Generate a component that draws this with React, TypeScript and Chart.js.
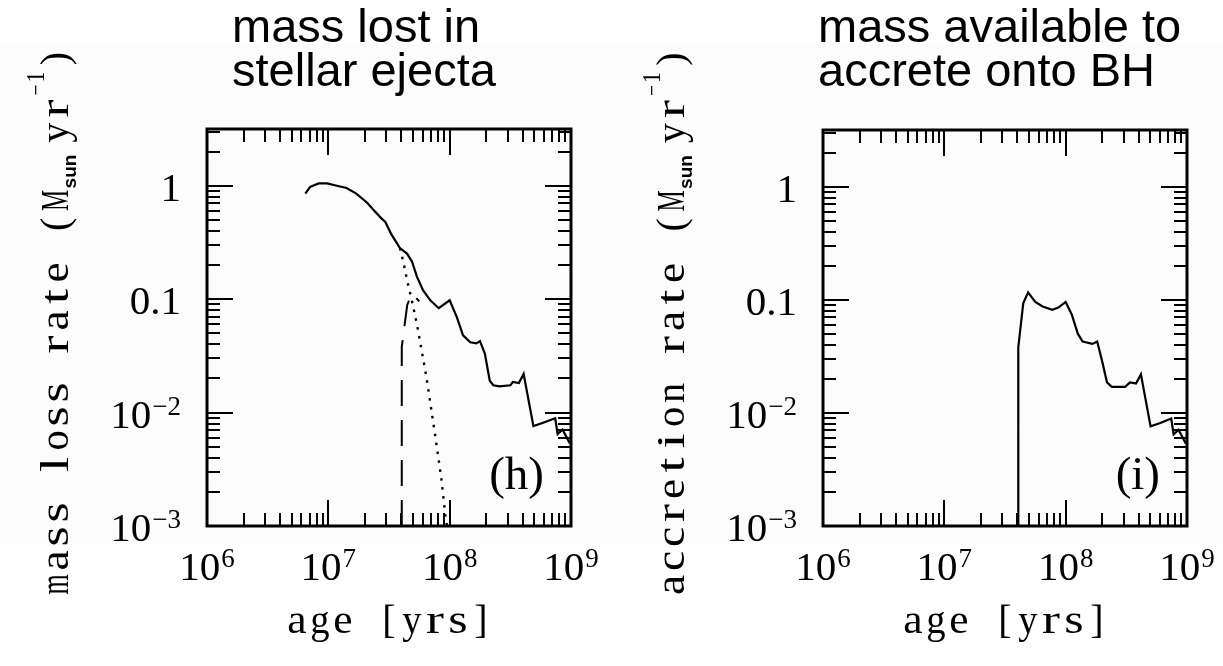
import React, { useEffect, useRef } from "react";
import { Chart, registerables } from "chart.js";

Chart.register(...registerables);

// ---------- data ----------
// (h) total mass lost in stellar ejecta (solid)
const ejectaAge = [6.46e6, 7.08e6, 8.32e6, 9.77e6, 1.175e7, 1.413e7, 1.7e7, 2.09e7, 2.34e7, 2.75e7, 2.95e7, 3.31e7, 3.89e7, 4.47e7, 4.9e7, 5.37e7, 6.03e7, 6.92e7, 8.13e7, 1.0e8, 1.148e8, 1.288e8, 1.479e8, 1.66e8, 1.778e8, 1.95e8, 2.14e8, 2.29e8, 2.57e8, 3.16e8, 3.31e8, 3.72e8, 4.07e8, 4.9e8, 5.89e8, 7.41e8, 7.76e8, 8.51e8, 9.12e8, 9.77e8];
const ejectaRate = [0.851, 0.977, 1.047, 1.047, 1.0, 0.955, 0.851, 0.708, 0.617, 0.513, 0.479, 0.372, 0.282, 0.251, 0.214, 0.158, 0.12, 0.0977, 0.0832, 0.0977, 0.0692, 0.0479, 0.0417, 0.0407, 0.0427, 0.0331, 0.0191, 0.0174, 0.017, 0.0174, 0.0186, 0.0182, 0.0219, 0.00759, 0.00813, 0.00891, 0.00646, 0.00708, 0.00617, 0.00537];
// (h) dotted component
const dottedAge = [3.89e7, 4.17e7, 4.47e7, 4.9e7, 5.37e7, 5.89e7, 6.46e7, 7.59e7, 8.51e7, 9.33e7, 9.55e7];
const dottedRate = [0.282, 0.209, 0.145, 0.0955, 0.0603, 0.0347, 0.02, 0.00631, 0.00269, 0.0011, 0.001];
// (h) dashed component
const dashedAge = [4.03e7, 4.03e7, 4.47e7, 4.9e7, 5.62e7];
const dashedRate = [0.001, 0.038, 0.089, 0.112, 0.0955];
// (i) mass available to accrete onto BH
const accretionAge = [4.07e7, 4.07e7, 4.47e7, 4.9e7, 5.62e7, 6.46e7, 7.76e7, 8.71e7, 1.0e8, 1.122e8, 1.259e8, 1.38e8, 1.66e8, 1.82e8, 1.995e8, 2.19e8, 2.4e8, 3.09e8, 3.39e8, 3.8e8, 4.17e8, 5.01e8, 6.03e8, 7.41e8, 7.76e8, 8.51e8, 9.12e8, 9.77e8];
const accretionRate = [0.001, 0.038, 0.093, 0.116, 0.0955, 0.0871, 0.0813, 0.0851, 0.0955, 0.0741, 0.0501, 0.0427, 0.0407, 0.0427, 0.0288, 0.0186, 0.017, 0.017, 0.0186, 0.0182, 0.0219, 0.00759, 0.00813, 0.00891, 0.00646, 0.00708, 0.00617, 0.00537];

// ---------- axes / tick labels ----------
const xMin = 1e6;
const xMax = 1e9;
const yMin = 1e-3;
const yMax = 3.162;
const xTickValues = [1e6, 1e7, 1e8, 1e9];
const xTickBase = ["10", "10", "10", "10"];
const xTickExp = ["6", "7", "8", "9"];
const yTickValues = [1, 0.1, 0.01, 0.001];
const yTickBase = ["1", "0.1", "10", "10"];
const yTickExp = ["", "", "\u22122", "\u22123"];

const xTitle = "age [yrs]";
const leftTitleLines = ["mass lost in", "stellar ejecta"];
const rightTitleLines = ["mass available to", "accrete onto BH"];
const leftYTitle = "mass loss rate (M";
const rightYTitle = "accretion rate (M";

const SERIF = '"Liberation Serif", "DejaVu Serif", serif';
const TT = '"Liberation Serif", "DejaVu Serif", serif';
const SANS = '"Liberation Sans", Arial, sans-serif';

const toPts = (xs: number[], ys: number[]) => xs.map((x, i) => ({ x, y: ys[i] }));

type PanelCfg = {
  left: number;
  width: number;
  padding: { left: number; right: number; top: number; bottom: number };
  titleLines: string[];
  titleX: number;
  yTitle: string;
  tag: string;
  datasets: any[];
};

function drawSup(ctx: CanvasRenderingContext2D, base: string, exp: string, x: number, y: number, align: "center" | "right", baseFont: string, expFont: string, raise: number) {
  ctx.font = baseFont;
  const wb = ctx.measureText(base).width;
  ctx.font = expFont;
  const we = exp ? ctx.measureText(exp).width + 1 : 0;
  const total = wb + we;
  const start = align === "center" ? x - total / 2 : x - total;
  ctx.textAlign = "left";
  ctx.textBaseline = "alphabetic";
  ctx.font = baseFont;
  ctx.fillText(base, start, y);
  if (exp) {
    ctx.font = expFont;
    ctx.fillText(exp, start + wb + 1, y - raise);
  }
}

// typewriter-style text: each character centred (and fitted) in a fixed-width cell
function drawMono(ctx: CanvasRenderingContext2D, text: string, u0: number, v: number, cell: number, font: string) {
  ctx.font = font;
  ctx.textAlign = "left";
  ctx.textBaseline = "alphabetic";
  for (let i = 0; i < text.length; i++) {
    const ch = text[i];
    if (ch === " ") continue;
    const w = ctx.measureText(ch).width;
    const punct = "()[]".includes(ch);
    const sx = punct ? 1 : Math.max(0.6, Math.min(1.35, (cell * 0.84) / w));
    ctx.save();
    ctx.translate(u0 + i * cell + cell / 2, v);
    ctx.scale(sx, 1);
    ctx.fillText(ch, -w / 2, 0);
    ctx.restore();
  }
  return text.length * cell;
}

function makePlugin(cfg: PanelCfg) {
  return {
    id: "panelDecor",
    afterDraw(chart: any) {
      const ctx: CanvasRenderingContext2D = chart.ctx;
      const a = chart.chartArea;
      const xs = chart.scales.x;
      const ys = chart.scales.y;
      ctx.save();
      ctx.strokeStyle = "#000";
      ctx.fillStyle = "#000";
      // ticks (inward, mirrored on all four sides)
      ctx.lineWidth = 2;
      ctx.beginPath();
      for (let d = 6; d <= 9; d++) {
        for (let m = 1; m <= 9; m++) {
          const v = m * Math.pow(10, d);
          if (v < xMin * 0.999 || v > xMax * 1.001) continue;
          const px = Math.round(xs.getPixelForValue(v));
          const len = m === 1 ? 26 : 13;
          ctx.moveTo(px, a.bottom);
          ctx.lineTo(px, a.bottom - len);
          ctx.moveTo(px, a.top);
          ctx.lineTo(px, a.top + len);
        }
      }
      for (let d = -3; d <= 0; d++) {
        for (let m = 1; m <= 9; m++) {
          const v = m * Math.pow(10, d);
          if (v < yMin * 0.999 || v > yMax * 1.001) continue;
          const py = Math.round(ys.getPixelForValue(v));
          const len = m === 1 ? 26 : 13;
          ctx.moveTo(a.left, py);
          ctx.lineTo(a.left + len, py);
          ctx.moveTo(a.right, py);
          ctx.lineTo(a.right - len, py);
        }
      }
      ctx.stroke();
      // frame
      ctx.lineWidth = 3;
      ctx.strokeRect(a.left, a.top, a.right - a.left, a.bottom - a.top);

      // tick labels
      const baseFont = `41px ${SERIF}`;
      const expFont = `27px ${SERIF}`;
      xTickValues.forEach((v, i) => {
        const px = xs.getPixelForValue(v);
        drawSup(ctx, xTickBase[i], xTickExp[i], px, a.bottom + 54, "center", baseFont, expFont, 13);
      });
      yTickValues.forEach((v, i) => {
        const py = ys.getPixelForValue(v);
        drawSup(ctx, yTickBase[i], yTickExp[i], a.left - 26, py + 15, "right", baseFont, expFont, 13);
      });

      // x title
      const xCell = 23;
      const ttFont = `40px ${TT}`;
      drawMono(ctx, xTitle, (a.left + a.right) / 2 - (xTitle.length * xCell) / 2, a.bottom + 107, xCell, ttFont);

      // y title (rotated)
      const yCell = 24;
      const subFont = `bold 19px ${SANS}`;
      const supFont = `25px ${TT}`;
      ctx.font = subFont;
      const sunW = ctx.measureText("sun").width;
      const total = cfg.yTitle.length * yCell + sunW + 10 + 2 * yCell + 2 * 13 + yCell;
      ctx.save();
      ctx.translate(a.left - 139, (a.top + a.bottom) / 2 - 6);
      ctx.rotate(-Math.PI / 2);
      let u = -total / 2;
      u += drawMono(ctx, cfg.yTitle, u, 0, yCell, ttFont);
      ctx.font = subFont;
      ctx.textAlign = "left";
      ctx.fillText("sun", u, 8);
      u += sunW + 10;
      u += drawMono(ctx, "yr", u, 0, yCell, ttFont);
      u += drawMono(ctx, "\u22121", u, -24, 13, supFont);
      drawMono(ctx, ")", u, 0, yCell, ttFont);
      ctx.restore();

      // panel tag
      ctx.font = `47px ${SERIF}`;
      ctx.textAlign = "right";
      ctx.fillText(cfg.tag, a.right - 27, a.bottom - 37);

      // panel title
      ctx.font = `47px ${SANS}`;
      ctx.textAlign = "left";
      cfg.titleLines.forEach((line, i) => {
        ctx.fillText(line, cfg.titleX, 42 + i * 44);
      });
      ctx.restore();
    },
  };
}

function Panel({ cfg }: { cfg: PanelCfg }) {
  const ref = useRef<HTMLCanvasElement | null>(null);
  useEffect(() => {
    if (!ref.current) return;
    const chart = new Chart(ref.current, {
      type: "scatter",
      data: { datasets: cfg.datasets },
      options: {
        responsive: false,
        animation: false,
        devicePixelRatio: 1,
        layout: { padding: cfg.padding },
        plugins: { legend: { display: false }, tooltip: { enabled: false }, title: { display: false } },
        elements: { point: { radius: 0 } },
        scales: {
          x: { type: "logarithmic", min: xMin, max: xMax, display: false },
          y: { type: "logarithmic", min: yMin, max: yMax, display: false },
        },
      },
      plugins: [makePlugin(cfg)],
    } as any);
    return () => chart.destroy();
  }, [cfg]);
  return (
    <canvas
      ref={ref}
      width={cfg.width}
      height={666}
      style={{ position: "absolute", left: cfg.left, top: 0, width: cfg.width, height: 666 }}
    />
  );
}

const lineStyle = { showLine: true, borderColor: "#000", backgroundColor: "#000", pointRadius: 0, fill: false, tension: 0 };

const leftCfg: PanelCfg = {
  left: 0,
  width: 612,
  padding: { left: 207, right: 41, top: 129, bottom: 140 },
  titleLines: leftTitleLines,
  titleX: 232,
  yTitle: leftYTitle,
  tag: "(h)",
  datasets: [
    { ...lineStyle, label: "ejecta", data: toPts(ejectaAge, ejectaRate), borderWidth: 2.2 },
    { ...lineStyle, label: "dotted", data: toPts(dottedAge, dottedRate), borderWidth: 2.4, borderDash: [2.5, 6.5] },
    { ...lineStyle, label: "dashed", data: toPts(dashedAge, dashedRate), borderWidth: 2, borderDash: [26, 14] },
  ],
};

const rightCfg: PanelCfg = {
  left: 612,
  width: 611,
  padding: { left: 211, right: 36, top: 130, bottom: 140 },
  titleLines: rightTitleLines,
  titleX: 206,
  yTitle: rightYTitle,
  tag: "(i)",
  datasets: [{ ...lineStyle, label: "accretion", data: toPts(accretionAge, accretionRate), borderWidth: 2.2 }],
};

export default function App() {
  return (
    <div
      style={{
        position: "absolute",
        left: 0,
        top: 0,
        width: 1223,
        height: 666,
        background: "linear-gradient(#ffffff 0px, #ffffff 44px, #fbfcfb 44px, #fbfcfb 545px, #ffffff 545px)",
        overflow: "hidden",
      }}
    >
      <Panel cfg={leftCfg} />
      <Panel cfg={rightCfg} />
    </div>
  );
}
